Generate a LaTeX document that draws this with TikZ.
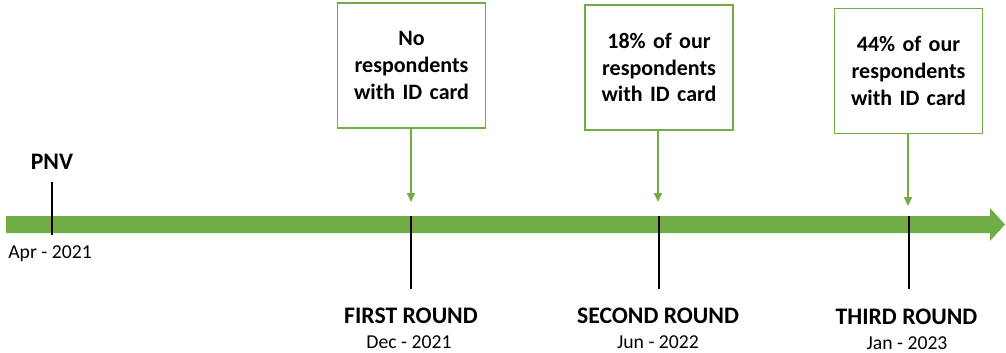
\documentclass[tikz,border=0pt]{standalone}
\usepackage{fontspec}
\setmainfont{Carlito}
\usetikzlibrary{arrows.meta}
\definecolor{bargreen}{HTML}{70AD47}
\tikzset{
  infobox/.style={draw=bargreen, line width=1.6pt, fill=white, minimum width=148pt, minimum height=125pt,
    text width=140pt, align=center, inner sep=0pt,
    font=\fontsize{22}{26.7}\selectfont\bfseries},
  pointer/.style={draw=bargreen, line width=1.6pt, -{Triangle[length=9pt,width=8pt]}},
  tick/.style={draw=black, line width=2pt},
  roundlabel/.style={font=\fontsize{23.7}{27}\selectfont\bfseries, inner sep=0pt},
  datelabel/.style={font=\fontsize{19.7}{23}\selectfont, inner sep=0pt}
}
\begin{document}
\begin{tikzpicture}[x=1pt,y=-1pt]
\useasboundingbox (0,0) rectangle (1006,353);
% timeline bar
\fill[bargreen] (6,216) -- (990,216) -- (990,208) -- (1005,224.5) -- (990,241) -- (990,233) -- (6,233) -- cycle;
% PNV
\coordinate (pnvtop) at (52,182);
\coordinate (pnvbot) at (52,235);
\draw[tick] (pnvtop) -- (pnvbot);
\node[roundlabel] (pnv) at (52,162) {PNV};
\node[datelabel] (pnvdate) at (50,254) {Apr - 2021};
% rounds ticks
\coordinate (t1top) at (411,216);
\coordinate (t1bot) at (411,289);
\coordinate (t2top) at (659,216);
\coordinate (t2bot) at (659,289);
\coordinate (t3top) at (909,216);
\coordinate (t3bot) at (909,289);
\draw[tick] (t1top) -- (t1bot);
\draw[tick] (t2top) -- (t2bot);
\draw[tick] (t3top) -- (t3bot);
% boxes
\node[infobox] (b1) at (411.5,65.5) {No\\respondents\\with ID card};
\node[infobox] (b2) at (659,67.5) {18\% of our\\respondents\\with ID card};
\node[infobox] (b3) at (908.5,71) {44\% of our\\respondents\\with ID card};
% pointer arrows
\coordinate (a1) at (411,202);
\coordinate (a2) at (658,202);
\coordinate (a3) at (908,206);
\draw[pointer] (b1.south -| a1) -- (a1);
\draw[pointer] (b2.south -| a2) -- (a2);
\draw[pointer] (b3.south -| a3) -- (a3);
% labels
\node[roundlabel] (r1) at (411,316) {FIRST ROUND};
\node[datelabel] (d1) at (409,342) {Dec - 2021};
\node[roundlabel] (r2) at (658,316) {SECOND ROUND};
\node[datelabel] (d2) at (658,342) {Jun - 2022};
\node[roundlabel] (r3) at (906.5,317) {THIRD ROUND};
\node[datelabel] (d3) at (907,343) {Jan - 2023};
\end{tikzpicture}
\end{document}
